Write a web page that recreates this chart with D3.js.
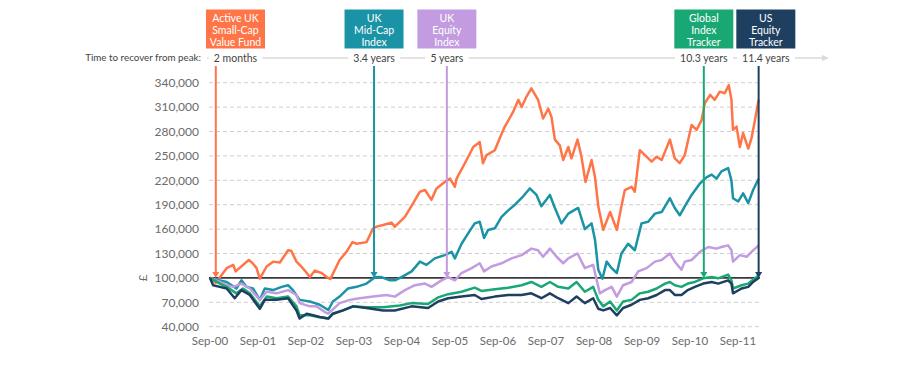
<!DOCTYPE html>
<html><head><meta charset="utf-8">
<script src="https://cdn.jsdelivr.net/npm/d3@7"></script>
<style>body{margin:0;background:#fff;} svg{display:block;font-family:Lato,"Open Sans",sans-serif;}</style>
</head><body><svg id="c" width="900" height="368"></svg>
<script>
// ---------- DATA (values in £ thousands) ----------
const seriesNames = ["Active UK Small-Cap Value Fund","UK Mid-Cap Index","UK Equity Index","Global Index Tracker","US Equity Tracker"];
const seriesColors = ["#ff7547","#1b93a6","#c39be0","#19a874","#1e3f60"];
const smallCapValue = [["2000-09-01",100],["2000-10-15",94],["2001-01-06",112],["2001-02-25",116],["2001-03-15",108],["2001-06-23",122],["2001-07-23",118],["2001-08-21",112],["2001-09-15",99],["2001-11-06",114],["2001-12-25",120],["2002-02-15",119],["2002-04-18",134],["2002-05-13",133],["2002-06-21",120],["2002-07-28",114],["2002-08-23",109],["2002-10-01",101],["2002-11-08",109],["2002-12-28",106],["2003-02-06",101],["2003-03-06",98.6],["2003-05-15",122],["2003-07-06",132],["2003-08-21",144],["2003-09-21",142],["2003-12-06",144],["2004-01-25",161],["2004-02-21",163],["2004-04-10",165],["2004-06-13",168],["2004-07-08",163],["2004-08-15",169],["2004-09-23",175],["2004-11-25",192],["2005-01-15",206],["2005-02-23",208],["2005-04-13",196],["2005-05-21",210],["2005-07-23",218],["2005-09-01",222],["2005-10-08",212],["2005-10-21",222],["2005-12-23",241],["2006-02-25",261],["2006-04-15",267],["2006-05-10",241],["2006-06-06",251],["2006-08-08",257],["2006-09-15",272],["2006-10-23",286],["2006-12-25",304],["2007-02-03",319],["2007-02-28",310],["2007-04-06",323],["2007-05-13",333],["2007-07-03",319],["2007-08-10",296],["2007-09-18",308],["2007-10-13",298],["2007-11-08",270],["2007-12-15",263],["2008-01-10",245],["2008-02-18",261],["2008-03-13",247],["2008-04-28",270],["2008-05-28",249],["2008-06-28",218],["2008-08-13",245],["2008-09-08",224],["2008-10-03",188],["2008-11-10",159],["2009-01-01",181],["2009-02-21",159],["2009-03-28",188],["2009-04-23",208],["2009-06-13",212],["2009-07-08",206],["2009-08-15",257],["2009-09-23",251],["2009-11-13",243],["2009-12-21",249],["2010-01-28",245],["2010-04-01",270],["2010-05-08",247],["2010-06-15",241],["2010-07-23",251],["2010-09-13",288],["2010-10-21",282],["2010-11-28",294],["2010-12-23",315],["2011-02-01",325],["2011-03-08",319],["2011-04-15",329],["2011-05-23",327],["2011-06-23",337],["2011-07-13",319],["2011-07-25",282],["2011-08-21",286],["2011-09-15",261],["2011-10-10",278],["2011-11-18",259],["2011-12-13",272],["2012-01-08",294],["2012-02-05",319]];
const midCapIndex = [["2000-09-01",100],["2000-11-15",97],["2001-01-06",95],["2001-03-21",87],["2001-04-28",97],["2001-06-06",89],["2001-07-25",87],["2001-09-15",73],["2001-10-23",87],["2001-12-25",85],["2002-02-28",89],["2002-04-18",91],["2002-05-25",85],["2002-07-15",73],["2002-10-01",71],["2002-11-08",69],["2002-12-15",67],["2003-02-18",60.5],["2003-03-25",71],["2003-05-15",77],["2003-07-18",87],["2003-09-21",89],["2003-12-06",93],["2004-02-08",100.7],["2004-03-28",101],["2004-06-01",97],["2004-07-08",97],["2004-08-28",101],["2004-11-13",108],["2005-01-15",120],["2005-03-06",116],["2005-05-08",124],["2005-07-23",128],["2005-09-13",132],["2005-10-08",124],["2005-11-28",142],["2006-01-18",155],["2006-03-08",167],["2006-04-15",169],["2006-05-18",149],["2006-06-18",159],["2006-08-08",161],["2006-09-28",175],["2006-11-18",183],["2007-01-08",190],["2007-03-10",200],["2007-05-01",210],["2007-06-21",202],["2007-07-28",188],["2007-10-01",202],["2007-11-08",186],["2007-12-28",167],["2008-02-18",179],["2008-05-03",186],["2008-06-23",160],["2008-08-13",167],["2008-09-08",147],["2008-10-03",110],["2008-11-03",99],["2008-12-06",120],["2009-01-13",112],["2009-02-21",106],["2009-03-28",130],["2009-05-18",142],["2009-07-08",134],["2009-08-28",167],["2009-10-18",169],["2009-12-08",179],["2010-01-28",181],["2010-04-01",198],["2010-05-08",186],["2010-06-15",177],["2010-07-23",188],["2010-09-13",202],["2010-11-15",216],["2011-01-06",224],["2011-02-13",227],["2011-03-21",222],["2011-04-28",231],["2011-06-18",235],["2011-07-13",220],["2011-07-25",198],["2011-09-03",194],["2011-10-10",204],["2011-11-18",192],["2011-12-25",208],["2012-02-05",222]];
const ukEquityIndex = [["2000-09-01",100],["2000-11-15",95],["2001-01-06",91],["2001-02-25",89],["2001-04-28",93],["2001-07-01",87],["2001-09-15",73],["2001-11-06",83],["2002-01-21",81],["2002-04-18",85],["2002-06-21",79],["2002-07-15",69],["2002-10-01",65],["2002-11-21",65],["2003-01-23",58],["2003-02-18",56],["2003-05-15",69],["2003-08-01",73],["2003-10-15",75],["2004-01-25",77],["2004-05-06",79],["2004-07-08",77],["2004-09-23",85],["2004-12-08",91],["2005-02-23",93],["2005-04-13",89],["2005-06-28",97],["2005-08-18",101],["2005-10-08",97],["2005-11-28",106],["2006-02-13",112],["2006-04-15",118],["2006-05-18",108],["2006-07-13",114],["2006-09-28",118],["2006-12-13",124],["2007-02-28",128],["2007-05-13",136],["2007-07-03",134],["2007-08-10",126],["2007-10-01",136],["2007-11-21",126],["2008-01-10",118],["2008-02-18",124],["2008-04-28",130],["2008-06-23",112],["2008-08-25",116],["2008-09-21",97],["2008-10-15",81],["2008-11-23",85],["2009-01-13",89],["2009-02-21",77],["2009-04-10",91],["2009-06-13",95],["2009-08-03",108],["2009-10-06",112],["2009-12-08",120],["2010-01-28",122],["2010-04-01",130],["2010-05-08",120],["2010-06-28",110],["2010-07-23",120],["2010-09-13",122],["2010-11-15",132],["2011-01-18",138],["2011-03-21",136],["2011-04-28",138],["2011-06-18",140],["2011-07-13",134],["2011-07-25",120],["2011-09-15",128],["2011-11-06",126],["2011-12-13",132],["2012-02-05",140]];
const globalTracker = [["2000-09-01",100],["2000-11-15",93],["2001-01-06",89],["2001-03-21",81],["2001-05-10",87],["2001-07-01",81],["2001-09-15",65],["2001-11-06",77],["2002-01-21",75],["2002-04-18",77],["2002-06-21",65],["2002-07-15",54],["2002-10-01",54],["2002-12-03",52],["2003-02-18",50],["2003-03-25",56],["2003-06-10",60],["2003-08-25",65],["2003-12-06",64],["2004-04-10",64],["2004-08-15",66],["2004-11-13",69],["2005-03-18",68],["2005-06-03",76],["2005-08-18",80],["2005-11-28",83],["2006-03-08",88],["2006-04-28",84],["2006-08-08",86],["2006-11-18",88],["2007-02-28",91],["2007-05-13",95],["2007-07-28",89],["2007-10-01",95],["2007-12-03",89],["2008-02-18",87],["2008-04-21",95],["2008-06-23",83],["2008-08-25",89],["2008-10-03",73],["2008-11-10",65],["2009-01-01",71],["2009-02-21",60],["2009-04-10",71],["2009-06-13",73],["2009-08-15",81],["2009-10-18",83],["2009-12-21",87],["2010-02-23",93],["2010-04-01",95],["2010-05-08",91],["2010-06-28",89],["2010-08-15",93],["2010-10-08",95],["2010-12-10",99.5],["2011-02-13",101],["2011-04-03",99.5],["2011-06-18",104],["2011-07-13",97],["2011-07-25",87],["2011-09-28",91],["2011-11-18",93],["2012-01-08",99.5],["2012-02-05",103]];
const usTracker = [["2000-09-01",100],["2000-09-25",91],["2000-11-15",89],["2001-01-06",87],["2001-03-08",75],["2001-04-28",85],["2001-07-01",79],["2001-09-15",62],["2001-10-23",73],["2002-01-21",73],["2002-04-18",75],["2002-06-21",60],["2002-07-15",50],["2002-09-06",56],["2002-10-25",54],["2002-12-15",52],["2003-02-18",50],["2003-03-25",56],["2003-06-10",60],["2003-08-25",65],["2003-12-06",63],["2004-04-10",60],["2004-07-08",60],["2004-11-13",65],["2005-03-18",63],["2005-06-03",71],["2005-08-18",75],["2005-11-28",77],["2006-03-08",79],["2006-04-28",74],["2006-08-08",77],["2006-11-18",79],["2007-02-28",79],["2007-05-13",81],["2007-07-28",75],["2007-10-01",81],["2007-12-03",75],["2008-02-18",69],["2008-04-21",77],["2008-06-23",69],["2008-08-25",75],["2008-10-03",62],["2008-11-10",60],["2009-01-01",63],["2009-02-21",54],["2009-04-10",63],["2009-06-13",67],["2009-08-15",73],["2009-10-18",75],["2009-12-21",79],["2010-02-23",85],["2010-04-01",85],["2010-05-08",79],["2010-06-28",79],["2010-08-15",85],["2010-10-08",89],["2010-12-10",93],["2011-02-13",95],["2011-04-03",93],["2011-06-18",97],["2011-07-13",93],["2011-07-25",81],["2011-09-28",87],["2011-11-18",89],["2011-12-25",95],["2012-02-05",100]];
const recoveryDates = ["2000-10-15","2004-02-01","2005-08-08","2010-12-15","2012-02-05"];
const recoveryLabels = ["2 months","3.4 years","5 years","10.3 years","11.4 years"];
const boxLabels = [["Active UK","Small-Cap","Value Fund"],["UK","Mid-Cap","Index"],["UK","Equity","Index"],["Global","Index","Tracker"],["US","Equity","Tracker"]];
const yTicks = [40000,70000,100000,130000,160000,190000,220000,250000,280000,310000,340000];
const xTickYears = [2000,2001,2002,2003,2004,2005,2006,2007,2008,2009,2010,2011];
const baseValue = 100000;
const headerText = "Time to recover from peak:";
const yAxisTitle = "£";

// ---------- CHART ----------
const UNIT = 1000;
const parse = d3.timeParse("%Y-%m-%d");
const allSeries = [smallCapValue, midCapIndex, ukEquityIndex, globalTracker, usTracker]
  .map(s => s.map(([d, v]) => ({date: parse(d), value: v * UNIT})));

const svg = d3.select("#c");
const x = d3.scaleTime().domain([new Date(2000, 8, 1), new Date(2011, 8, 1)]).range([210, 738]);
const y = d3.scaleLinear().domain([40000, 340000]).range([326.7, 82.7]);
const plotRight = 760;

// gridlines
svg.append("g").selectAll("line").data(yTicks.filter(t => t !== baseValue)).join("line")
  .attr("x1", 209).attr("x2", plotRight).attr("y1", d => y(d)).attr("y2", d => y(d))
  .attr("stroke", "#cfcfcf").attr("stroke-width", 1).attr("stroke-dasharray", "4,3");

// y tick labels
svg.append("g").selectAll("text").data(yTicks).join("text")
  .attr("x", 199).attr("y", d => y(d)).attr("dy", "0.35em").attr("text-anchor", "end")
  .attr("font-size", 12).attr("fill", "#6b6b6b").text(d3.format(","));

// x tick labels
const fmt = d3.timeFormat("%b-%y");
svg.append("g").selectAll("text").data(xTickYears.map(yr => new Date(yr, 8, 1))).join("text")
  .attr("x", d => x(d)).attr("y", 345).attr("text-anchor", "middle")
  .attr("font-size", 11.5).attr("fill", "#6b6b6b").text(fmt);

// y title
svg.append("text").attr("transform", `translate(143,${y(baseValue)}) rotate(-90)`)
  .attr("dy", "0.35em").attr("text-anchor", "middle").attr("font-size", 12).attr("fill", "#6b6b6b").text(yAxisTitle);

// baseline
svg.append("line").attr("x1", 209).attr("x2", plotRight).attr("y1", y(baseValue)).attr("y2", y(baseValue))
  .attr("stroke", "#3a3a3a").attr("stroke-width", 1.6);

// series lines
const line = d3.line().x(d => x(d.date)).y(d => y(d.value));
svg.append("g").selectAll("path").data(allSeries).join("path")
  .attr("d", line).attr("fill", "none")
  .attr("stroke", (d, i) => seriesColors[i]).attr("stroke-width", 2.5)
  .attr("stroke-linejoin", "round");

// recovery arrows
const recX = recoveryDates.map(d => x(parse(d)));
const yb = y(baseValue);
recX.forEach((rx, i) => {
  svg.append("line").attr("x1", rx).attr("x2", rx).attr("y1", 66).attr("y2", yb - 4)
    .attr("stroke", seriesColors[i]).attr("stroke-width", 2);
  svg.append("path").attr("d", `M${rx - 3.5},${yb - 6}L${rx + 3.5},${yb - 6}L${rx},${yb}Z`)
    .attr("fill", seriesColors[i]);
});

// header timeline
const hy = 58;
svg.append("line").attr("x1", 207).attr("x2", 823).attr("y1", hy).attr("y2", hy)
  .attr("stroke", "#dadada").attr("stroke-width", 1.5);
svg.append("path").attr("d", `M822,${hy - 3}L829,${hy}L822,${hy + 3}Z`).attr("fill", "#dadada");
svg.append("text").attr("x", 201).attr("y", hy).attr("dy", "0.35em").attr("text-anchor", "end")
  .attr("font-size", 9.8).attr("fill", "#444").text(headerText);

// box layout: centered on arrows, clamped left & de-overlapped
const bw = 59, gap = 3;
const centers = [];
recX.forEach((rx, i) => {
  let c = Math.max(rx, 206 + bw / 2);
  if (i > 0 && c - bw / 2 < centers[i - 1] + bw / 2 + gap) c = centers[i - 1] + bw + gap;
  centers.push(c);
});

centers.forEach((c, i) => {
  const g = svg.append("g");
  g.append("rect").attr("x", c - bw / 2).attr("y", 9.5).attr("width", bw).attr("height", 39)
    .attr("fill", seriesColors[i]);
  boxLabels[i].forEach((t, j) => {
    g.append("text").attr("x", c).attr("y", 22 + j * 12.2).attr("text-anchor", "middle")
      .attr("font-size", 10.5).attr("fill", "#fff").text(t);
  });
  const tx = svg.append("text").attr("x", c).attr("y", hy).attr("dy", "0.35em").attr("text-anchor", "middle")
    .attr("font-size", 10.5).attr("fill", "#444").text(recoveryLabels[i]);
  const bb = tx.node().getBBox();
  svg.insert("rect", () => tx.node()).attr("x", bb.x - 5).attr("y", hy - 6).attr("width", bb.width + 10)
    .attr("height", 12).attr("fill", "#fff");
});
</script></body></html>
